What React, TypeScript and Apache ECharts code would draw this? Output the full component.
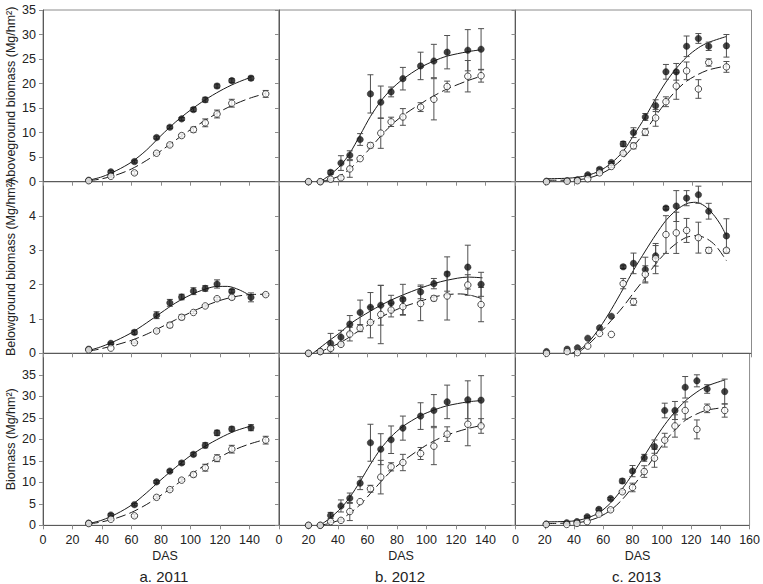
import React, { useEffect, useRef } from "react";
import * as echarts from "echarts";

// ---------- 2011 ----------
const das11F = [31, 46, 62, 77, 86, 94, 102, 110, 118, 128, 141];
const das11O = [31, 46, 62, 77, 86, 94, 102, 110, 118, 128, 151];

const agb11F = [0.3, 2.0, 4.1, 9.0, 11.1, 12.8, 14.7, 16.7, 19.5, 20.6, 21.1];
const agb11FErr = [0, 0.3, 0.3, 0.3, 0.3, 0.3, 0.4, 0.5, 0.4, 0.4, 0.4];
const agb11O = [0.2, 1.1, 1.8, 5.8, 7.5, 9.4, 10.6, 12.0, 13.8, 16.0, 17.9];
const agb11OErr = [0, 0.2, 0.3, 0.2, 0.3, 0.3, 0.5, 0.8, 0.8, 0.8, 0.7];
const agb11FitF = [[31, 0.3], [40, 1.0], [50, 2.3], [60, 4.0], [70, 6.4], [80, 9.4], [90, 12.2], [100, 14.6], [110, 16.7], [120, 18.5], [130, 20.0], [141, 21.3]];
const agb11FitO = [[31, 0.2], [40, 0.6], [50, 1.4], [60, 2.6], [70, 4.3], [80, 6.3], [90, 8.5], [100, 10.6], [110, 12.5], [120, 14.3], [130, 15.8], [140, 17.0], [151, 18.0]];

const bgb11F = [0.12, 0.29, 0.61, 1.11, 1.47, 1.64, 1.81, 1.89, 2.02, 1.81, 1.63];
const bgb11FErr = [0.02, 0.03, 0.06, 0.1, 0.1, 0.08, 0.1, 0.08, 0.12, 0.05, 0.13];
const bgb11O = [0.1, 0.15, 0.31, 0.65, 0.82, 1.05, 1.19, 1.38, 1.59, 1.63, 1.71];
const bgb11OErr = [0, 0, 0.02, 0.03, 0.07, 0.07, 0.03, 0.03, 0.04, 0.06, 0.04];
const bgb11FitF = [[31, 0.08], [40, 0.2], [50, 0.38], [60, 0.6], [70, 0.88], [80, 1.18], [90, 1.47], [100, 1.7], [110, 1.87], [118, 1.95], [125, 1.95], [133, 1.85], [141, 1.67]];
const bgb11FitO = [[31, 0.06], [40, 0.14], [50, 0.25], [60, 0.38], [70, 0.55], [80, 0.76], [90, 0.98], [100, 1.19], [110, 1.38], [120, 1.54], [130, 1.65], [140, 1.71], [151, 1.72]];

const tot11F = [0.5, 2.4, 4.8, 10.1, 12.6, 14.5, 16.5, 18.6, 21.5, 22.4, 22.7];
const tot11FErr = [0, 0.3, 0.3, 0.3, 0.3, 0.4, 0.4, 0.6, 0.6, 0.5, 0.7];
const tot11O = [0.4, 1.4, 2.2, 6.5, 8.3, 10.5, 11.8, 13.4, 15.6, 17.7, 19.8];
const tot11OErr = [0, 0.2, 0.3, 0.3, 0.3, 0.3, 0.5, 0.8, 0.8, 0.9, 0.9];
const tot11FitF = [[31, 0.4], [40, 1.2], [50, 2.7], [60, 4.7], [70, 7.5], [80, 10.6], [90, 13.5], [100, 16.2], [110, 18.4], [120, 20.3], [130, 21.9], [141, 23.1]];
const tot11FitO = [[31, 0.3], [40, 0.8], [50, 1.7], [60, 3.0], [70, 4.8], [80, 7.0], [90, 9.4], [100, 11.8], [110, 14.0], [120, 15.9], [130, 17.6], [140, 18.9], [151, 20.0]];

// ---------- 2012 ----------
const das12 = [20, 28, 35, 42, 48, 55, 62, 69, 76, 84, 96, 105, 114, 128, 137];

const agb12F = [0, 0, 1.9, 3.8, 5.4, 8.6, 17.9, 16.2, 18.3, 21.0, 23.6, 24.6, 26.4, 26.8, 27.0];
const agb12FErr = [0, 0, 0.4, 1.5, 0.9, 1.2, 3.9, 3.3, 1.0, 2.3, 2.8, 3.4, 3.4, 4.2, 4.2];
const agb12O = [0, 0, 0.5, 0.8, 2.6, 4.7, 7.4, 9.9, 12.2, 13.2, 15.2, 16.8, 19.4, 21.5, 21.6];
const agb12OErr = [0, 0, 0.2, 0.3, 1.7, 0, 0.5, 3.1, 0.95, 1.7, 0.9, 4.2, 1.1, 3.2, 1.3];
const agb12FitF = [[28, 0], [35, 1.5], [42, 3.4], [48, 5.8], [55, 9.5], [62, 13.3], [69, 16.4], [76, 18.8], [84, 20.9], [96, 23.3], [105, 24.6], [114, 25.6], [128, 26.5], [137, 26.9]];
const agb12FitO = [[28, 0], [35, 0.5], [42, 1.3], [48, 2.6], [55, 4.6], [62, 6.9], [69, 9.3], [76, 11.5], [84, 13.5], [96, 15.9], [105, 17.5], [114, 18.9], [128, 20.6], [137, 21.5]];

const bgb12F = [0, 0.05, 0.29, 0.47, 0.85, 1.19, 1.34, 1.4, 1.47, 1.57, 1.79, 2.03, 2.31, 2.51, 2.01];
const bgb12FErr = [0, 0, 0.29, 0.2, 0.25, 0.36, 0.43, 0.58, 0.22, 0.44, 0.2, 0.15, 0.5, 0.64, 0.35];
const bgb12O = [0, 0.05, 0.14, 0.26, 0.56, 0.73, 0.9, 1.13, 1.26, 1.36, 1.45, 1.6, 1.67, 1.99, 1.42];
const bgb12OErr = [0, 0, 0.05, 0.05, 0.2, 0.1, 0.45, 0.85, 0.2, 0.25, 0.5, 0.07, 0.7, 0.3, 0.5];
const bgb12FitF = [[23, 0], [35, 0.4], [42, 0.62], [48, 0.85], [55, 1.05], [62, 1.23], [69, 1.4], [76, 1.55], [84, 1.7], [96, 1.9], [105, 2.03], [114, 2.13], [128, 2.22], [138, 2.2]];
const bgb12FitO = [[26, 0], [35, 0.18], [42, 0.32], [48, 0.48], [55, 0.68], [62, 0.87], [69, 1.05], [76, 1.2], [84, 1.35], [96, 1.52], [105, 1.64], [114, 1.71], [123, 1.73], [130, 1.69], [137, 1.6]];

const tot12F = [0, 0, 2.3, 4.5, 6.3, 9.8, 19.2, 17.7, 19.9, 22.6, 25.4, 26.7, 28.7, 29.2, 29.1];
const tot12FErr = [0, 0, 0.7, 1.4, 1.2, 1.5, 4.3, 3.6, 3.2, 2.8, 3.1, 3.7, 3.9, 4.4, 5.7];
const tot12O = [0, 0, 0.85, 1.15, 3.2, 5.5, 8.5, 11.2, 13.6, 14.6, 16.7, 18.4, 21.2, 23.5, 23.1];
const tot12OErr = [0, 0, 0.2, 0.3, 2.1, 0, 0.8, 3.9, 0.95, 1.9, 1.4, 4.3, 1.7, 5.0, 1.7];
const tot12FitF = [[28, 0], [35, 1.8], [42, 4.0], [48, 6.5], [55, 10.2], [62, 14.2], [69, 17.8], [76, 20.6], [84, 23.0], [96, 25.5], [105, 26.8], [114, 27.8], [128, 28.7], [137, 29.0]];
const tot12FitO = [[28, 0], [35, 0.5], [42, 1.4], [48, 2.8], [55, 4.8], [62, 7.4], [69, 10.1], [76, 12.6], [84, 14.9], [96, 17.8], [105, 19.6], [114, 21.0], [128, 22.5], [137, 23.2]];

// ---------- 2013 ----------
const das13 = [21, 35, 42, 49, 57, 65, 73, 80, 88, 95, 102, 109, 116, 124, 131, 143];

const agb13F = [0.1, 0.2, 0.4, 1.4, 2.5, 3.9, 7.7, 10.0, 13.2, 15.5, 22.4, 22.4, 27.6, 29.2, 27.6, 27.7];
const agb13FErr = [0, 0, 0, 0.2, 0.3, 0.2, 0.5, 1.0, 0.7, 1.2, 1.5, 1.7, 2.1, 1.0, 0.85, 2.3];
const agb13O = [0, 0.1, 0.2, 0.6, 1.8, 3.1, 5.8, 7.3, 10.1, 13.0, 16.3, 19.5, 22.6, 18.9, 24.3, 23.4];
const agb13OErr = [0, 0, 0, 0, 0.2, 0.2, 0.3, 0.6, 0.7, 1.7, 1.0, 2.7, 1.8, 1.9, 0.75, 1.1];
const agb13FitF = [[21, 0.6], [35, 0.7], [42, 0.9], [49, 1.3], [57, 2.2], [65, 3.8], [73, 6.2], [80, 9.4], [88, 13.2], [95, 16.9], [102, 20.3], [109, 23.1], [116, 25.4], [124, 27.3], [131, 28.4], [143, 29.6]];
const agb13FitO = [[21, 0.3], [35, 0.3], [42, 0.4], [49, 0.7], [57, 1.5], [65, 2.8], [73, 4.8], [80, 7.2], [88, 10.3], [95, 13.4], [102, 16.2], [109, 18.6], [116, 20.5], [124, 21.9], [131, 22.8], [143, 23.6]];

const bgb13F = [0.05, 0.12, 0.16, 0.44, 0.74, 1.08, 2.52, 2.62, 2.44, 2.84, 4.23, 4.29, 4.52, 4.62, 4.14, 3.42];
const bgb13FErr = [0, 0, 0, 0, 0, 0, 0.05, 0.3, 0.36, 0.3, 0.05, 0.45, 0.22, 0.25, 0.23, 0.5];
const bgb13O = [0, 0.05, 0.02, 0.21, 0.58, 0.55, 2.03, 1.5, 2.3, 2.76, 3.46, 3.51, 3.58, 3.37, 3.0, 3.0];
const bgb13OErr = [0, 0, 0, 0, 0, 0, 0.15, 0.1, 0.25, 0.44, 0.55, 0.6, 0.35, 0.45, 0.08, 0.05];
const bgb13FitF = [[38, 0], [42, 0.06], [49, 0.3], [57, 0.74], [65, 1.28], [73, 1.88], [80, 2.42], [88, 2.98], [95, 3.45], [102, 3.87], [109, 4.17], [116, 4.36], [122, 4.4], [128, 4.3], [134, 4.05], [139, 3.75], [143, 3.42]];
const bgb13FitO = [[42, 0], [49, 0.24], [57, 0.58], [65, 0.96], [73, 1.36], [80, 1.76], [88, 2.2], [95, 2.6], [102, 2.94], [109, 3.2], [116, 3.38], [123, 3.43], [130, 3.33], [136, 3.12], [143, 2.7]];

const tot13F = [0.3, 0.6, 0.85, 2.0, 3.7, 6.2, 10.3, 12.6, 15.7, 18.3, 26.7, 26.7, 32.1, 33.6, 31.7, 31.1];
const tot13FErr = [0, 0, 0, 0.2, 0.3, 0.3, 0.5, 1.3, 0.8, 1.55, 1.7, 2.1, 2.5, 1.4, 1.0, 2.9];
const tot13O = [0.2, 0.2, 0.45, 0.85, 2.6, 3.6, 7.8, 8.8, 12.5, 15.6, 19.8, 23.1, 26.7, 22.3, 27.2, 26.7];
const tot13OErr = [0, 0, 0, 0, 0.3, 0.3, 0.3, 1.0, 1.35, 2.1, 1.6, 2.6, 2.0, 2.2, 1.0, 1.55];
const tot13FitF = [[21, 0.8], [35, 0.9], [42, 1.1], [49, 1.7], [57, 2.9], [65, 5.2], [73, 8.5], [80, 11.9], [88, 16.1], [95, 19.9], [102, 23.4], [109, 26.4], [116, 28.9], [124, 31.0], [131, 32.4], [143, 33.8]];
const tot13FitO = [[21, 0.4], [35, 0.5], [42, 0.6], [49, 1.0], [57, 1.9], [65, 3.5], [73, 6.0], [80, 8.9], [88, 12.6], [95, 16.0], [102, 19.4], [109, 22.2], [116, 24.4], [124, 25.9], [131, 26.8], [143, 27.4]];

// ---------- labels ----------
const yTitles = ["Aboveground biomass (Mg/hm²)", "Belowground biomass (Mg/hm²)", "Biomass (Mg/hm²)"];
const xTitle = "DAS";
const yearLabels = ["a. 2011", "b. 2012", "c. 2013"];
const yMax = [35, 5, 40];
const yStep = [5, 1, 5];

type Panel = {
  xF: number[]; yF: number[]; eF: number[];
  xO: number[]; yO: number[]; eO: number[];
  fitF: number[][]; fitO: number[][];
};

const panels: Panel[][] = [
  [
    { xF: das11F, yF: agb11F, eF: agb11FErr, xO: das11O, yO: agb11O, eO: agb11OErr, fitF: agb11FitF, fitO: agb11FitO },
    { xF: das12, yF: agb12F, eF: agb12FErr, xO: das12, yO: agb12O, eO: agb12OErr, fitF: agb12FitF, fitO: agb12FitO },
    { xF: das13, yF: agb13F, eF: agb13FErr, xO: das13, yO: agb13O, eO: agb13OErr, fitF: agb13FitF, fitO: agb13FitO },
  ],
  [
    { xF: das11F, yF: bgb11F, eF: bgb11FErr, xO: das11O, yO: bgb11O, eO: bgb11OErr, fitF: bgb11FitF, fitO: bgb11FitO },
    { xF: das12, yF: bgb12F, eF: bgb12FErr, xO: das12, yO: bgb12O, eO: bgb12OErr, fitF: bgb12FitF, fitO: bgb12FitO },
    { xF: das13, yF: bgb13F, eF: bgb13FErr, xO: das13, yO: bgb13O, eO: bgb13OErr, fitF: bgb13FitF, fitO: bgb13FitO },
  ],
  [
    { xF: das11F, yF: tot11F, eF: tot11FErr, xO: das11O, yO: tot11O, eO: tot11OErr, fitF: tot11FitF, fitO: tot11FitO },
    { xF: das12, yF: tot12F, eF: tot12FErr, xO: das12, yO: tot12O, eO: tot12OErr, fitF: tot12FitF, fitO: tot12FitO },
    { xF: das13, yF: tot13F, eF: tot13FErr, xO: das13, yO: tot13O, eO: tot13OErr, fitF: tot13FitF, fitO: tot13FitO },
  ],
];

const FONT = '"Liberation Sans", Arial, sans-serif';
const LEFTS = [43, 279, 515.5];
const TOPS = [10, 181.7, 353.3];
const HEIGHTS = [171.7, 171.6, 172];
const WIDTH = 236;

function errorBarRender(params: any, api: any) {
  const x = api.value(0);
  const lo = api.value(1);
  const hi = api.value(2);
  const p1 = api.coord([x, hi]);
  const p2 = api.coord([x, lo]);
  const w = 3;
  const style = { stroke: "#505050", lineWidth: 1, fill: null };
  return {
    type: "group",
    children: [
      { type: "line", shape: { x1: p1[0], y1: p1[1], x2: p2[0], y2: p2[1] }, style },
      { type: "line", shape: { x1: p1[0] - w, y1: p1[1], x2: p1[0] + w, y2: p1[1] }, style },
      { type: "line", shape: { x1: p2[0] - w, y1: p2[1], x2: p2[0] + w, y2: p2[1] }, style },
    ],
  };
}

function errData(xs: number[], ys: number[], es: number[]) {
  const out: number[][] = [];
  xs.forEach((x, i) => {
    if (es[i] > 0) out.push([x, Math.max(0, ys[i] - es[i]), ys[i] + es[i]]);
  });
  return out;
}

function buildOption() {
  const grid: any[] = [];
  const xAxis: any[] = [];
  const yAxis: any[] = [];
  const series: any[] = [];
  const graphic: any[] = [];

  panels.forEach((row, r) => {
    row.forEach((p, c) => {
      const i = r * 3 + c;
      grid.push({
        left: LEFTS[c], top: TOPS[r], width: WIDTH, height: HEIGHTS[r],
        show: true, borderColor: "#8c8c8c", borderWidth: 1, backgroundColor: "transparent",
      });
      xAxis.push({
        gridIndex: i, type: "value", min: 0, max: 160, interval: 20,
        axisLine: { show: true, onZero: false, lineStyle: { color: "#5a5a5a", width: 1 } },
        axisTick: { show: true, length: 4, lineStyle: { color: "#8c8c8c" } },
        axisLabel: { show: r === 2, showMaxLabel: c === 2, showMinLabel: true, fontSize: 12.5, color: "#222", fontFamily: FONT, margin: 8 },
        splitLine: { show: false },
      });
      yAxis.push({
        gridIndex: i, type: "value", min: 0, max: yMax[r], interval: yStep[r],
        axisLine: { show: true, onZero: false, lineStyle: { color: "#5a5a5a", width: 1 } },
        axisTick: { show: true, length: 4, lineStyle: { color: "#8c8c8c" } },
        axisLabel: { show: c === 0, showMaxLabel: r === 0, showMinLabel: true, fontSize: 12.5, color: "#222", fontFamily: FONT, margin: 7 },
        splitLine: { show: false },
      });
      series.push({
        type: "line", xAxisIndex: i, yAxisIndex: i, data: p.fitF, smooth: 0.3,
        symbol: "none", lineStyle: { color: "#1a1a1a", width: 1, type: "solid" }, z: 2, silent: true,
      });
      series.push({
        type: "line", xAxisIndex: i, yAxisIndex: i, data: p.fitO, smooth: 0.3,
        symbol: "none", lineStyle: { color: "#1a1a1a", width: 1, type: [10, 4] }, z: 2, silent: true,
      });
      series.push({
        type: "custom", xAxisIndex: i, yAxisIndex: i, renderItem: errorBarRender,
        data: errData(p.xF, p.yF, p.eF), encode: { x: 0, y: [1, 2] }, z: 3, silent: true,
      });
      series.push({
        type: "custom", xAxisIndex: i, yAxisIndex: i, renderItem: errorBarRender,
        data: errData(p.xO, p.yO, p.eO), encode: { x: 0, y: [1, 2] }, z: 3, silent: true,
      });
      series.push({
        type: "scatter", xAxisIndex: i, yAxisIndex: i, symbol: "circle", symbolSize: 6.5,
        data: p.xF.map((x, k) => [x, p.yF[k]]),
        itemStyle: { color: "#141414", borderColor: "#141414", borderWidth: 0.5 }, z: 4, silent: true,
      });
      series.push({
        type: "scatter", xAxisIndex: i, yAxisIndex: i, symbol: "circle", symbolSize: 6.5,
        data: p.xO.map((x, k) => [x, p.yO[k]]),
        itemStyle: { color: "#ffffff", borderColor: "#222", borderWidth: 1 }, z: 5, silent: true,
      });
    });
  });

  yTitles.forEach((t, r) => {
    graphic.push({
      type: "text", x: 11, y: TOPS[r] + HEIGHTS[r] / 2, rotation: Math.PI / 2,
      style: { text: t, font: `12.5px ${FONT}`, fill: "#222", textAlign: "center", textVerticalAlign: "middle" },
    });
  });
  yearLabels.forEach((t, c) => {
    const cx = LEFTS[c] + WIDTH / 2;
    graphic.push({
      type: "text", x: cx + 4, y: 556,
      style: { text: xTitle, font: `12.5px ${FONT}`, fill: "#222", textAlign: "center", textVerticalAlign: "middle" },
    });
    graphic.push({
      type: "text", x: cx + 3, y: 576,
      style: { text: t, font: `15px ${FONT}`, fill: "#222", textAlign: "center", textVerticalAlign: "middle" },
    });
  });

  return { animation: false, backgroundColor: "#fff", grid, xAxis, yAxis, series, graphic };
}

export default function App() {
  const ref = useRef<HTMLDivElement>(null);
  useEffect(() => {
    if (!ref.current) return;
    const chart = echarts.init(ref.current, null, { renderer: "svg" });
    chart.setOption(buildOption() as any);
    return () => chart.dispose();
  }, []);
  return (
    <div
      ref={ref}
      style={{ position: "absolute", left: 0, top: 0, width: 763, height: 584, background: "#fff" }}
    />
  );
}
